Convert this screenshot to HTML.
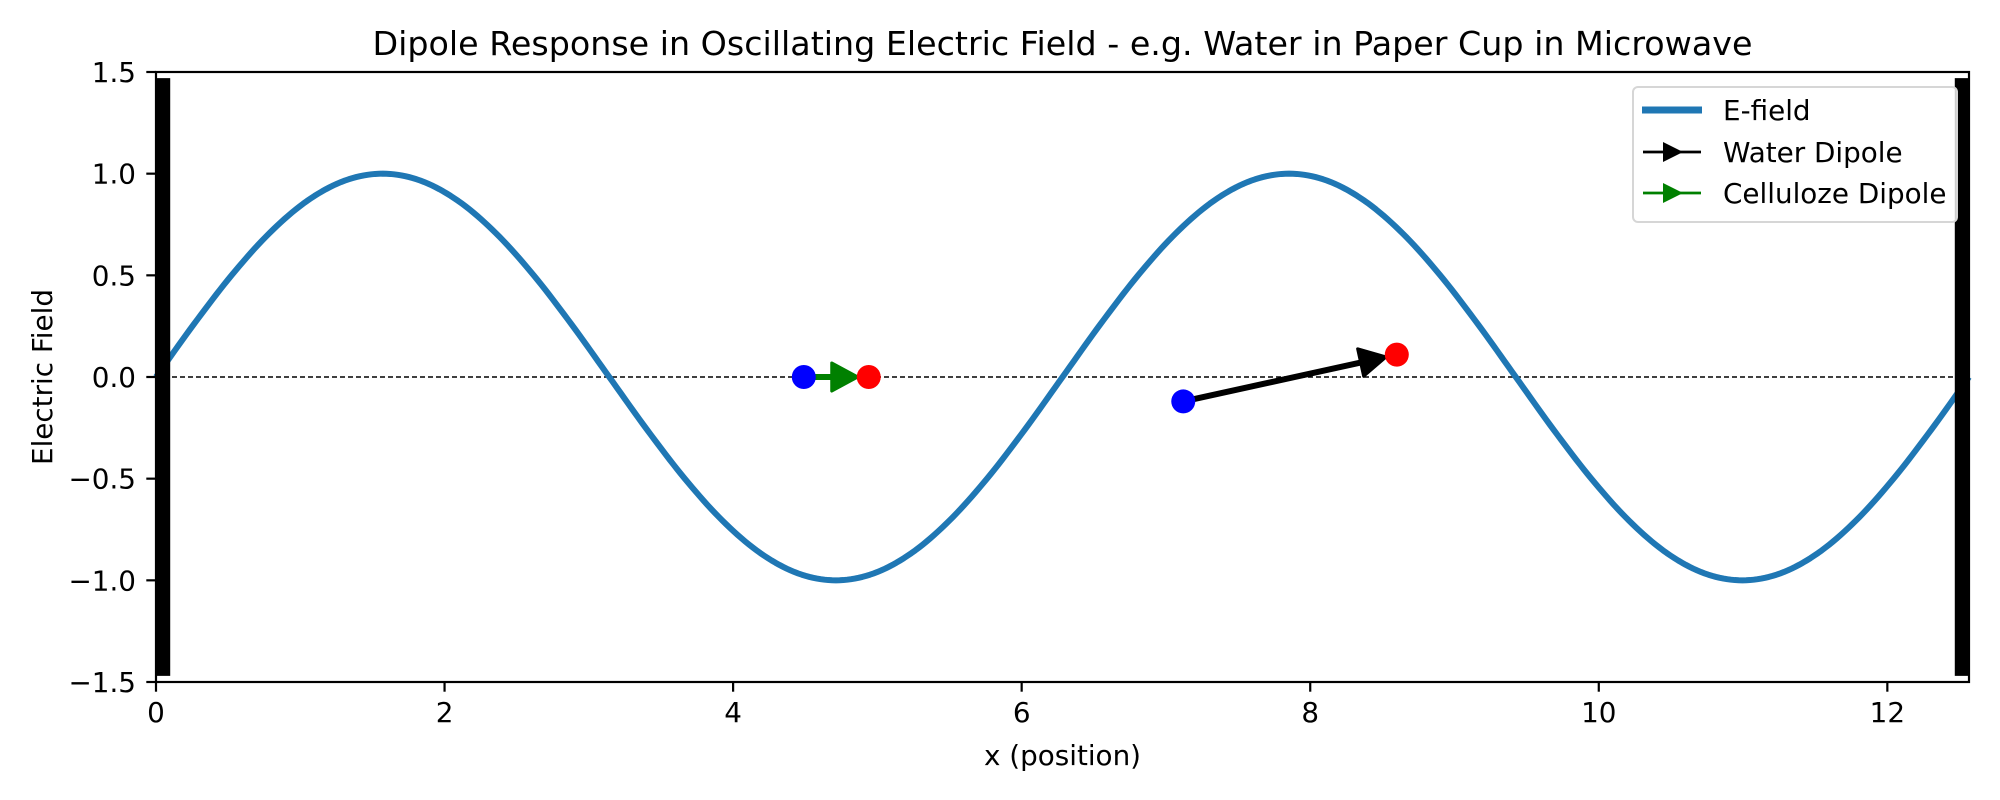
<!DOCTYPE html>
<html><head><meta charset="utf-8"><style>
html,body{margin:0;padding:0;background:#fff;}
svg{display:block;font-family:"DejaVu Sans","Liberation Sans",sans-serif;}
</style></head><body>
<svg id="chart" width="2000" height="800" viewBox="0 0 2000 800" xmlns="http://www.w3.org/2000/svg">
<rect width="2000" height="800" fill="#fff"/>
<g id="plot"></g>
</svg>
<script>
const xTicks = [0, 2, 4, 6, 8, 10, 12];
const yTicks = [-1.5, -1.0, -0.5, 0.0, 0.5, 1.0, 1.5];
const yTickLabels = ["\u22121.5", "\u22121.0", "\u22120.5", "0.0", "0.5", "1.0", "1.5"];
const fieldStep = 0.2618;
const fieldValues = [0,0.259,0.5,0.707,0.866,0.966,1,0.966,0.866,0.707,0.5,0.259,0,-0.259,-0.5,-0.707,-0.866,-0.966,-1,-0.966,-0.866,-0.707,-0.5,-0.259,0,0.259,0.5,0.707,0.866,0.966,1,0.966,0.866,0.707,0.5,0.259,0,-0.259,-0.5,-0.707,-0.866,-0.966,-1,-0.966,-0.866,-0.707,-0.5,-0.259,0];
const walls = [0.05, 12.516];
const wallExtent = [-1.47, 1.47];
const waterNeg = [7.12, -0.12];
const waterPos = [8.60, 0.11];
const cellNeg = [4.49, 0.0];
const cellPos = [4.94, 0.0];

const X0 = 156, X1 = 1969, Y0 = 682, Y1 = 72;
const xMin = 0, xMax = 12.566, yMin = -1.5, yMax = 1.5;
function sx(v){ return X0 + (v - xMin) / (xMax - xMin) * (X1 - X0); }
function sy(v){ return Y0 - (v - yMin) / (yMax - yMin) * (Y0 - Y1); }

const NS = "http://www.w3.org/2000/svg";
const g = document.getElementById('plot');
function mk(tag, attrs, parent){
  const e = document.createElementNS(NS, tag);
  for (const k in attrs) e.setAttribute(k, attrs[k]);
  (parent || g).appendChild(e);
  return e;
}

let el = mk('line', {x1:X0, x2:X1, y1:sy(0), y2:sy(0), stroke:'#000', 'stroke-width':1.4, 'stroke-dasharray':'5,3'});



const n = fieldValues.length;
function fv(i){
  if (i < 0) return 2*fieldValues[0] - fieldValues[1];
  if (i > n-1) return 2*fieldValues[n-1] - fieldValues[n-2];
  return fieldValues[i];
}
let pts = [];
for (let i = 0; i < n - 1; i++) {
  const a = fv(i-1), b = fv(i), c = fv(i+1), dd = fv(i+2);
  for (let k = 0; k < 10; k++) {
    const t = k/10, t2 = t*t, t3 = t2*t;
    const v = 0.5*((2*b) + (-a + c)*t + (2*a - 5*b + 4*c - dd)*t2 + (-a + 3*b - 3*c + dd)*t3);
    pts.push([Math.min((i+t)*fieldStep, xMax), v]);
  }
}
pts.push([xMax, fieldValues[n-1]]);
let d = pts.map((p,i)=> (i?'L':'M') + sx(p[0]).toFixed(2) + ',' + sy(p[1]).toFixed(2)).join(' ');
el = mk('path', {d:d, fill:'none', stroke:'#1f77b4', 'stroke-width':6, 'stroke-linejoin':'round'});



walls.forEach((w, i) => {
  const r = mk('line', {x1:sx(w), x2:sx(w), y1:sy(wallExtent[0]), y2:sy(wallExtent[1]), stroke:'#000', 'stroke-width':14});
  
  
});

function arrow(p0, p1, color, name, shrink){
  const x0 = sx(p0[0]), y0 = sy(p0[1]), x1 = sx(p1[0]), y1 = sy(p1[1]);
  const dx = x1 - x0, dy = y1 - y0, L = Math.hypot(dx, dy);
  const ux = dx / L, uy = dy / L;
  const tipX = x1 - ux * shrink, tipY = y1 - uy * shrink;
  const hl = 26, hw = 14;
  const bx = tipX - ux * hl, by = tipY - uy * hl;
  const grp = mk('g', {});
  
  
  mk('line', {x1:x0, y1:y0, x2:bx, y2:by, stroke:color, 'stroke-width':6}, grp);
  mk('polygon', {points:`${tipX},${tipY} ${bx - uy*hw},${by + ux*hw} ${bx + uy*hw},${by - ux*hw}`, fill:color, stroke:color, 'stroke-width':3, 'stroke-linejoin':'round'}, grp);
}
arrow(cellNeg, cellPos, '#008000', 'celluloze-dipole-arrow', 11);
arrow(waterNeg, waterPos, '#000', 'water-dipole-arrow', 11);

[[cellNeg,'blue','celluloze-negative-end'],[cellPos,'red','celluloze-positive-end'],[waterNeg,'blue','water-negative-end'],[waterPos,'red','water-positive-end']].forEach(a=>{
  const c = mk('circle', {cx:sx(a[0][0]), cy:sy(a[0][1]), r:12, fill:a[1]});
  
  
});

el = mk('rect', {x:X0, y:Y1, width:X1-X0, height:Y0-Y1, fill:'none', stroke:'#000', 'stroke-width':2.2});



xTicks.forEach(t => {
  const x = sx(t);
  const tk = mk('line', {x1:x, x2:x, y1:Y0, y2:Y0+9.7, stroke:'#000', 'stroke-width':2.2});
  
  
  const tx = mk('text', {x:x, y:Y0+40, 'font-size':27.8, 'text-anchor':'middle', fill:'#000'});
  tx.textContent = String(t);
  
  
});
yTicks.forEach((t, i) => {
  const y = sy(t);
  const tk = mk('line', {x1:X0-9.7, x2:X0, y1:y, y2:y, stroke:'#000', 'stroke-width':2.2});
  
  
  const tx = mk('text', {x:X0-20, y:y+10, 'font-size':27.8, 'text-anchor':'end', fill:'#000'});
  tx.textContent = yTickLabels[i];
  
  
});

el = mk('text', {x:(X0+X1)/2, y:55, 'font-size':33.3, 'text-anchor':'middle', fill:'#000'});
el.textContent = 'Dipole Response in Oscillating Electric Field - e.g. Water in Paper Cup in Microwave';


el = mk('text', {x:(X0+X1)/2, y:765, 'font-size':27.8, 'text-anchor':'middle', fill:'#000'});
el.textContent = 'x (position)';


el = mk('text', {x:52, y:377, 'font-size':27.8, 'text-anchor':'middle', fill:'#000', transform:'rotate(-90 52 377)'});
el.textContent = 'Electric Field';



const lg = mk('g', {});


mk('rect', {x:1633, y:87, width:324, height:135, rx:5, fill:'#fff', 'fill-opacity':0.8, stroke:'#d6d6d6', 'stroke-width':2}, lg);
const entries = [['E-field','#1f77b4','line',110],['Water Dipole','#000','arrow',152],['Celluloze Dipole','#008000','arrow',193]];
entries.forEach(e => {
  const eg = mk('g', {}, lg);
  
  
  const y = e[3];
  if (e[2] === 'line') {
    mk('line', {x1:1642, x2:1702, y1:y, y2:y, stroke:e[1], 'stroke-width':6.9}, eg);
  } else {
    mk('line', {x1:1643, x2:1701, y1:y, y2:y, stroke:e[1], 'stroke-width':2.8}, eg);
    mk('polygon', {points:`1663,${y-10} 1663,${y+10} 1683,${y}`, fill:e[1]}, eg);
  }
  const t = mk('text', {x:1723, y:y+10, 'font-size':27.8, fill:'#000'}, eg);
  t.textContent = e[0];
});
</script>
</body></html>
